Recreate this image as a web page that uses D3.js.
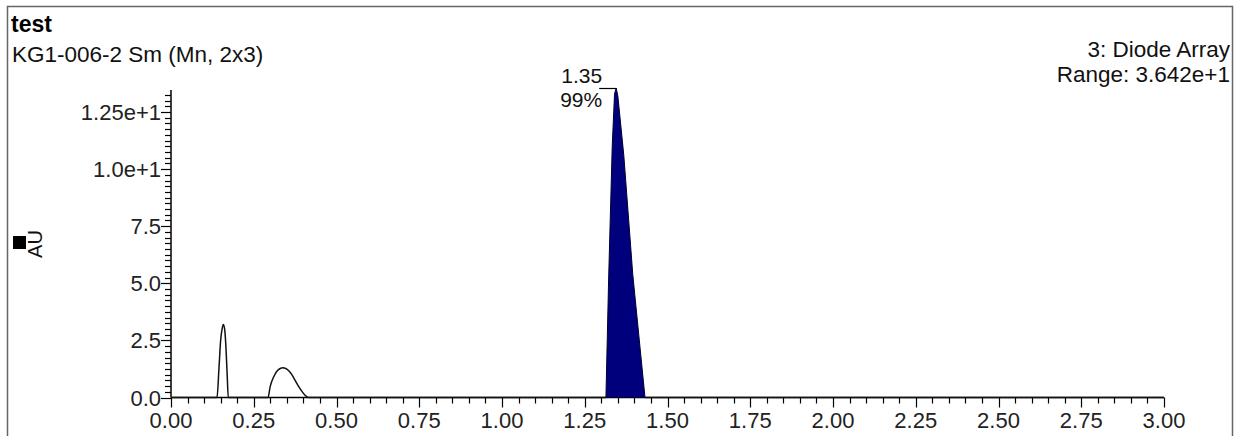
<!DOCTYPE html>
<html><head><meta charset="utf-8">
<script src="https://cdn.jsdelivr.net/npm/d3@7"></script>
<style>body{margin:0;background:#fff}svg{display:block;font-family:"Liberation Sans",Arial,sans-serif}</style>
</head><body>
<svg id="c" width="1241" height="436"></svg>
<script>
// ---- data ----
const xTicks = [0,0.25,0.5,0.75,1,1.25,1.5,1.75,2,2.25,2.5,2.75,3];
const xTickLabels = ["0.00","0.25","0.50","0.75","1.00","1.25","1.50","1.75","2.00","2.25","2.50","2.75","3.00"];
const yTicks = [0,2.5,5,7.5,10,12.5];
const yTickLabels = ["0.0","2.5","5.0","7.5","1.0e+1","1.25e+1"];
// trace (retention time in min, absorbance AU)
const traceX = [0,0.139,0.145,0.150,0.155,0.158,0.162,0.166,0.170,0.173,
  0.293,0.300,0.310,0.320,0.330,0.338,0.345,0.355,0.365,0.375,0.385,0.395,0.405,0.415,1.314];
const traceY = [0,0,1.3,2.5,3.05,3.2,3.0,2.2,0.9,0,
  0,0.5,0.9,1.15,1.27,1.30,1.28,1.18,1.0,0.75,0.5,0.28,0.1,0,0];
const peakX = [1.314,1.322,1.333,1.340,1.345,1.350,1.368,1.395,1.432];
const peakY = [0,5.1,11.0,13.3,13.55,13.2,10.6,5.4,0];
const traceTail = [[1.432,0],[3.0,0]];
const peakLabel = ["1.35","99%"];
const title = "test";
const subtitle = "KG1-006-2 Sm (Mn, 2x3)";
const infoLines = ["3: Diode Array","Range: 3.642e+1"];
const yLabel = "AU";

// ---- layout ----
const svg = d3.select("#c");
const x = d3.scaleLinear().domain([0,3]).range([171,1164]);
const y = d3.scaleLinear().domain([0,12.5]).range([397.5,112]);

// frame
svg.append("path").attr("d","M7.5,440V6.5H1232.5V440").attr("fill","none").attr("stroke","#666").attr("stroke-width",1.5);

// header texts
svg.append("text").attr("x",11).attr("y",32).attr("font-size",23).attr("font-weight","bold").attr("fill","#000").text(title);
svg.append("text").attr("x",12).attr("y",62).attr("font-size",22.5).attr("fill","#111").text(subtitle);
svg.selectAll("text.info").data(infoLines).enter().append("text").attr("class","info")
  .attr("x",1230).attr("y",(d,i)=>57+i*25).attr("text-anchor","end").attr("font-size",22.5).attr("fill","#111").text(d=>d);

// y label
svg.append("rect").attr("x",13).attr("y",236).attr("width",13).attr("height",13).attr("fill","#000");
svg.append("text").attr("transform","translate(42,244) rotate(-90)").attr("text-anchor","middle")
  .attr("font-size",20).attr("fill","#111").text(yLabel);

// x axis
const gx = svg.append("g");
gx.append("line").attr("x1",x(0)).attr("x2",x(3)).attr("y1",y(0)).attr("y2",y(0)).attr("stroke","#000").attr("stroke-width",1.5);
const xMinor = d3.range(0,3.0001,0.05);
gx.selectAll("line.mn").data(xMinor).enter().append("line")
  .attr("x1",d=>Math.round(x(d))+0.5).attr("x2",d=>Math.round(x(d))+0.5)
  .attr("y1",y(0)).attr("y2",d=>Math.abs(d/0.25-Math.round(d/0.25))<1e-6? y(0)+10 : y(0)+6)
  .attr("stroke","#000").attr("stroke-width",1.2);
gx.selectAll("text").data(xTicks).enter().append("text")
  .attr("x",d=>x(d)).attr("y",428).attr("text-anchor","middle").attr("font-size",22).attr("fill","#222")
  .text((d,i)=>xTickLabels[i]);

// y axis
const gy = svg.append("g");
gy.append("line").attr("x1",x(0)).attr("x2",x(0)).attr("y1",y(0)).attr("y2",y(13.46)).attr("stroke","#000").attr("stroke-width",1.5);
const yMinor = d3.range(0,13.3,0.25);
gy.selectAll("line.mn").data(yMinor).enter().append("line")
  .attr("x1",d=>Math.abs(d/2.5-Math.round(d/2.5))<1e-6? x(0)-10 : x(0)-6).attr("x2",x(0))
  .attr("y1",d=>Math.round(y(d))+0.5).attr("y2",d=>Math.round(y(d))+0.5)
  .attr("stroke","#000").attr("stroke-width",1.2);
gy.selectAll("text").data(yTicks).enter().append("text")
  .attr("x",x(0)-10).attr("y",d=>y(d)+8).attr("text-anchor","end").attr("font-size",22).attr("fill","#222")
  .text((d,i)=>yTickLabels[i]);

// trace
const line = d3.line().x(d=>x(d[0])).y(d=>y(d[1]));
const tr = traceX.map((v,i)=>[v,traceY[i]]);
svg.append("path").attr("d",line.curve(d3.curveMonotoneX)(tr)).attr("fill","none").attr("stroke","#111").attr("stroke-width",1.5);
svg.append("path").attr("d",d3.line().x(d=>x(d[0])).y(d=>y(d[1]))(traceTail)).attr("fill","none").attr("stroke","#111").attr("stroke-width",1.5);
const pk = peakX.map((v,i)=>[v,peakY[i]]);
svg.append("path").attr("d",d3.line().x(d=>x(d[0])).y(d=>y(d[1]))(pk)+"Z").attr("fill","#00007c").attr("stroke","#000030").attr("stroke-width",1);

// peak label
const apex = pk[4];
svg.append("line").attr("x1",x(apex[0])-17).attr("x2",x(apex[0])).attr("y1",Math.round(y(apex[1]))+0.5).attr("y2",Math.round(y(apex[1]))+0.5).attr("stroke","#000").attr("stroke-width",1.2);
svg.selectAll("text.pl").data(peakLabel).enter().append("text").attr("class","pl")
  .attr("x",x(apex[0])-14).attr("y",(d,i)=>83+i*24).attr("text-anchor","end").attr("font-size",21).attr("fill","#111").text(d=>d);
</script>
</body></html>
